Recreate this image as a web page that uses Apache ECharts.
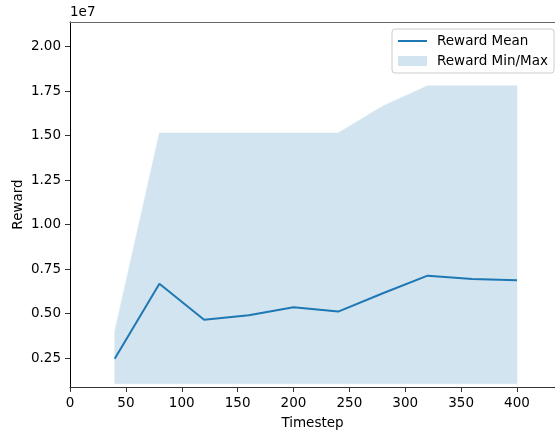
<!DOCTYPE html>
<html>
<head>
<meta charset="utf-8">
<script src="https://cdn.jsdelivr.net/npm/echarts@6/dist/echarts.min.js"></script>
<style>
  html, body { margin: 0; padding: 0; background: #fff; }
  #chart { width: 555px; height: 430px; }
</style>
</head>
<body>
<div id="chart"></div>
<script>
// 数据
var timesteps = [40, 80, 120, 160, 200, 240, 280, 320, 360, 400];
var rewardMean = [2.46e6, 6.68e6, 4.65e6, 4.90e6, 5.36e6, 5.11e6, 6.14e6, 7.13e6, 6.94e6, 6.87e6];
var rewardMin = [1.06e6, 1.06e6, 1.06e6, 1.06e6, 1.06e6, 1.06e6, 1.06e6, 1.06e6, 1.06e6, 1.06e6];
var rewardMax = [3.99e6, 15.15e6, 15.15e6, 15.15e6, 15.15e6, 15.15e6, 16.66e6, 17.8e6, 17.8e6, 17.8e6];
var xTicks = [0, 50, 100, 150, 200, 250, 300, 350, 400];
var yTicks = [2.5e6, 5e6, 7.5e6, 10e6, 12.5e6, 15e6, 17.5e6, 20e6];

var font = 'DejaVu Sans';
var blue = '#1f77b4';
var band = '#d2e4f0';

// 组合坐标点
var meanData = [];
var bandData = [];
for (var i = 0; i < timesteps.length; i++) {
	meanData.push([timesteps[i], rewardMean[i]]);
	bandData.push([timesteps[i], rewardMin[i], rewardMax[i]]);
}

// 绘制最小/最大值区域（一个多边形）
function renderBand(params, api) {
	if (params.dataIndex !== 0) {
		return;
	}
	var top = [];
	var bottom = [];
	for (var i = 0; i < bandData.length; i++) {
		top.push(api.coord([bandData[i][0], bandData[i][2]]));
		bottom.unshift(api.coord([bandData[i][0], bandData[i][1]]));
	}
	return {
		type: 'polygon',
		shape: { points: top.concat(bottom) },
		style: { fill: band, stroke: band, lineWidth: 0.5 }
	};
}

var chart = echarts.init(document.getElementById('chart'));
chart.setOption({
	animation: false,
	textStyle: { fontFamily: font },
	grid: { left: 70, top: 22, right: 0, bottom: 43, outerBoundsMode: 'none', containLabel: false },
	legend: {
		orient: 'vertical',
		right: 1,
		top: 29,
		data: [
			{ name: 'Reward Mean', icon: 'line', itemStyle: { color: blue, borderColor: blue, borderWidth: 2 } },
			{ name: 'Reward Min/Max', icon: 'rect', itemStyle: { color: band, borderWidth: 0 } }
		],
		itemWidth: 29,
		itemHeight: 10,
		itemGap: 6,
		padding: [5, 6, 5, 5],
		backgroundColor: '#fff',
		borderColor: '#cccccc',
		borderWidth: 1,
		borderRadius: 3,
		textStyle: { fontFamily: font, fontSize: 13.5, color: '#000', padding: [0, 0, 0, 5] }
	},
	graphic: [{
		type: 'text',
		left: 70,
		top: 5,
		style: { text: '1e7', font: '13.5px "DejaVu Sans"', fill: '#000' }
	}],
	xAxis: [{
		type: 'value',
		min: 0,
		max: 434,
		name: 'Timestep',
		nameLocation: 'middle',
		nameGap: 29,
		nameMoveOverlap: false,
		nameTextStyle: { fontFamily: font, fontSize: 13.5, color: '#000' },
		axisLine: { lineStyle: { color: '#333', width: 1 } },
		axisTick: { show: true, length: 5, customValues: xTicks, lineStyle: { color: '#333' } },
		axisLabel: { customValues: xTicks, fontFamily: font, fontSize: 13.5, color: '#000', margin: 9 },
		splitLine: { show: false }
	}, {
		type: 'value',
		position: 'top',
		min: 0,
		max: 434,
		axisLine: { show: true, lineStyle: { color: '#666', width: 1 } },
		axisTick: { show: false },
		axisLabel: { show: false },
		splitLine: { show: false }
	}],
	yAxis: {
		type: 'value',
		min: 874000,
		max: 21380000,
		name: 'Reward',
		nameLocation: 'middle',
		nameGap: 45,
		nameMoveOverlap: false,
		nameTextStyle: { fontFamily: font, fontSize: 13.5, color: '#000' },
		axisLine: { show: true, lineStyle: { color: '#000', width: 1 } },
		axisTick: { show: true, length: 5, customValues: yTicks, lineStyle: { color: '#333' } },
		axisLabel: {
			customValues: yTicks,
			fontFamily: font,
			fontSize: 13.5,
			color: '#000',
			margin: 9,
			formatter: function (v) { return (v / 1e7).toFixed(2); }
		},
		splitLine: { show: false }
	},
	series: [{
		name: 'Reward Min/Max',
		type: 'custom',
		renderItem: renderBand,
		itemStyle: { color: band },
		encode: { x: 0, y: [1, 2] },
		data: bandData,
		z: 1
	}, {
		name: 'Reward Mean',
		type: 'line',
		symbol: 'none',
		z: 5,
		itemStyle: { color: blue },
		lineStyle: { color: blue, width: 2 },
		data: meanData
	}]
});
</script>
</body>
</html>
